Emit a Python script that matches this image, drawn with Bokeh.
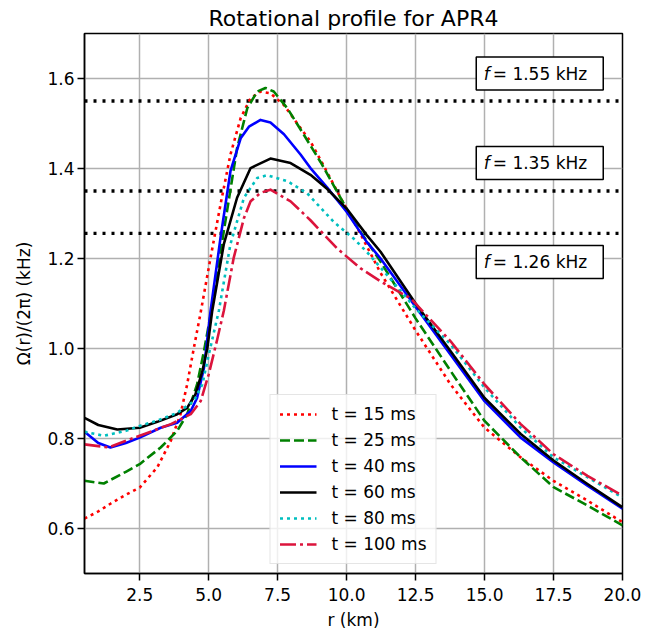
from bokeh.plotting import figure
from bokeh.models import Span, FixedTicker, PrintfTickFormatter, Legend, LegendItem
from bokeh.core.properties import value
from bokeh.embed import file_html
from bokeh.resources import INLINE

FONT = "DejaVu Sans"

# ---- data ----
r_t15 = [0.5, 1.0, 1.44, 2.0, 2.5, 3.14, 3.63, 3.98, 4.22, 4.46, 4.71, 5.07, 5.43, 5.79, 6.16, 6.52,
         6.88, 7.24, 7.73, 8.33, 8.69, 9.18, 9.78, 10.39, 11.23, 12.5, 13.77, 15.0, 16.31, 17.5,
         18.73, 20.0]
f_t15 = [0.622, 0.638, 0.655, 0.675, 0.691, 0.736, 0.795, 0.854, 0.920, 1.000, 1.080, 1.202, 1.320,
         1.431, 1.512, 1.556, 1.571, 1.567, 1.541, 1.490, 1.460, 1.405, 1.335, 1.268, 1.168, 1.040,
         0.920, 0.824, 0.758, 0.706, 0.662, 0.614]

r_t25 = [0.5, 1.2, 2.0, 2.5, 3.26, 3.86, 4.22, 4.58, 4.83, 5.07, 5.55, 6.03, 6.4, 6.76, 7.06, 7.36,
         7.85, 8.45, 9.06, 9.66, 10.26, 11.23, 12.5, 13.77, 15.0, 16.31, 17.5, 18.73, 20.0]
f_t25 = [0.706, 0.700, 0.726, 0.743, 0.780, 0.817, 0.854, 0.920, 0.994, 1.075, 1.261, 1.445, 1.534,
         1.571, 1.579, 1.571, 1.534, 1.475, 1.414, 1.348, 1.282, 1.193, 1.067, 0.950, 0.839, 0.758,
         0.692, 0.651, 0.607]

r_t40 = [0.5, 1.0, 1.44, 2.0, 2.5, 3.26, 3.86, 4.35, 4.58, 4.83, 5.07, 5.43, 5.79, 6.16, 6.46, 6.88,
         7.24, 7.73, 8.33, 8.69, 9.29, 10.0, 10.73, 11.23, 12.5, 13.77, 15.0, 16.31, 17.5, 18.73, 20.0]
f_t40 = [0.815, 0.790, 0.780, 0.790, 0.802, 0.824, 0.835, 0.861, 0.890, 0.957, 1.084, 1.246, 1.394,
         1.467, 1.493, 1.508, 1.502, 1.476, 1.431, 1.401, 1.358, 1.304, 1.237, 1.200, 1.093, 0.986,
         0.883, 0.802, 0.747, 0.695, 0.644]

r_t60 = [0.5, 1.0, 1.69, 2.5, 3.14, 3.86, 4.22, 4.52, 4.77, 4.95, 5.13, 5.55, 6.03, 6.52, 7.24, 7.97,
         8.69, 9.29, 10.0, 10.73, 11.23, 12.5, 13.77, 15.0, 16.31, 17.5, 18.73, 20.0]
f_t60 = [0.846, 0.830, 0.820, 0.824, 0.837, 0.854, 0.868, 0.898, 0.949, 1.000, 1.084, 1.232, 1.335,
         1.401, 1.422, 1.412, 1.386, 1.355, 1.311, 1.252, 1.215, 1.100, 0.994, 0.890, 0.810, 0.751,
         0.699, 0.647]

r_t80 = [0.5, 1.2, 2.0, 2.5, 3.2, 3.86, 4.46, 4.77, 5.0, 5.37, 5.79, 6.28, 6.76, 7.12, 7.85, 8.57,
         9.54, 10.26, 10.73, 11.23, 12.5, 13.77, 15.0, 16.31, 17.5, 18.73, 20.0]
f_t80 = [0.815, 0.806, 0.817, 0.828, 0.841, 0.857, 0.883, 0.920, 0.985, 1.084, 1.232, 1.335, 1.379,
         1.385, 1.372, 1.345, 1.281, 1.244, 1.215, 1.180, 1.089, 1.009, 0.913, 0.824, 0.758, 0.714,
         0.669]

r_t100 = [0.5, 1.38, 2.0, 2.5, 3.63, 4.35, 4.71, 5.0, 5.31, 5.55, 5.91, 6.28, 6.52, 6.88, 7.24, 7.97,
          8.69, 9.66, 10.51, 11.23, 12.33, 13.77, 15.0, 16.31, 17.5, 18.73, 20.0]
f_t100 = [0.787, 0.780, 0.795, 0.806, 0.832, 0.854, 0.883, 0.942, 1.020, 1.084, 1.202, 1.290, 1.327,
          1.346, 1.353, 1.327, 1.285, 1.222, 1.178, 1.149, 1.111, 1.016, 0.920, 0.832, 0.765, 0.717,
          0.673]

series_labels = ["t = 15 ms", "t = 25 ms", "t = 40 ms", "t = 60 ms", "t = 80 ms", "t = 100 ms"]

freq_values = [1.55, 1.35, 1.256]
freq_texts = ["= 1.55 kHz", "= 1.35 kHz", "= 1.26 kHz"]

x_ticks = [2.5, 5.0, 7.5, 10.0, 12.5, 15.0, 17.5, 20.0]
y_ticks = [0.6, 0.8, 1.0, 1.2, 1.4, 1.6]

# ---- styles ----
styles = [
    dict(line_color="#ff0000", line_dash="3 4"),
    dict(line_color="#008000", line_dash="10 4"),
    dict(line_color="#0000ff", line_dash="solid"),
    dict(line_color="#000000", line_dash="solid"),
    dict(line_color="#00bfbf", line_dash="3 4"),
    dict(line_color="#dc143c", line_dash="16 4 3 4"),
]

p = figure(width=668, height=635, x_range=(0.5, 20.0), y_range=(0.5, 1.7),
           output_backend="svg", toolbar_location=None,
           min_border_left=84, min_border_right=46, min_border_top=32, min_border_bottom=62)

p.title.text = "Rotational profile for APR4"
p.title.align = "center"
p.title.text_font = FONT
p.title.text_font_size = "22px"
p.title.text_font_style = "normal"
p.title.text_color = "black"
p.title.standoff = 6

p.outline_line_color = "black"
p.outline_line_width = 1.5
p.outline_line_alpha = 1.0

p.xaxis.ticker = FixedTicker(ticks=x_ticks)
p.xgrid.ticker = FixedTicker(ticks=x_ticks)
p.yaxis.ticker = FixedTicker(ticks=y_ticks)
p.ygrid.ticker = FixedTicker(ticks=y_ticks)
p.xaxis.formatter = PrintfTickFormatter(format="%.1f")
p.yaxis.formatter = PrintfTickFormatter(format="%.1f")

for ax in (p.xaxis, p.yaxis):
    ax.major_tick_out = 7
    ax.major_tick_in = 0
    ax.minor_tick_out = 0
    ax.minor_tick_in = 0
    ax.major_tick_line_width = 1.5
    ax.major_tick_line_color = "black"
    ax.axis_line_width = 1.5
    ax.axis_line_color = "black"
    ax.major_label_text_font = FONT
    ax.major_label_text_font_size = "17px"
    ax.major_label_text_color = "black"
    ax.axis_label_text_font = FONT
    ax.axis_label_text_font_size = "17px"
    ax.axis_label_text_font_style = "normal"
    ax.axis_label_text_color = "black"

p.xaxis.major_label_standoff = 7
p.yaxis.major_label_standoff = 3
p.xaxis.axis_label = "r (km)"
p.yaxis.axis_label = "Ω(r)/(2π) (kHz)"
p.xaxis.axis_label_standoff = 6
p.yaxis.axis_label_standoff = 10

p.grid.grid_line_color = "#b0b0b0"
p.grid.grid_line_width = 1.5

# frequency reference lines
for fv in freq_values:
    p.add_layout(Span(location=fv, dimension="width", line_color="black",
                      line_width=3.3, line_dash="3 6", level="underlay"))

# curves
all_r = [r_t15, r_t25, r_t40, r_t60, r_t80, r_t100]
all_f = [f_t15, f_t25, f_t40, f_t60, f_t80, f_t100]
items = []
for rr, ff, lab, st in zip(all_r, all_f, series_labels, styles):
    ren = p.line(rr, ff, line_width=2.6, line_join="round", **st)
    items.append(LegendItem(label=lab, renderers=[ren]))

legend = Legend(items=items, location="bottom_center")
legend.margin = 9
legend.padding = 9
legend.spacing = 6
legend.label_height = 20
legend.glyph_height = 20
legend.glyph_width = 37
legend.label_standoff = 15
legend.label_text_font = FONT
legend.label_text_font_size = "17px"
legend.label_text_color = "black"
legend.border_line_color = "#cccccc"
legend.border_line_width = 1
legend.background_fill_color = "white"
legend.background_fill_alpha = 0.8
p.add_layout(legend)

# frequency labels in boxes
label_x = 17.0
label_offsets = [0.061, 0.062, -0.064]
label_y = [fv + off for fv, off in zip(freq_values, label_offsets)]
p.rect(x=[label_x] * len(label_y), y=label_y, width=127, height=33,
       width_units="screen", height_units="screen",
       fill_color="white", line_color="black", line_width=1.5)
p.text(x=[label_x] * len(label_y), y=label_y, text=["f"] * len(label_y), x_offset=-56,
       text_font=value(FONT), text_font_style="italic", text_font_size="17px",
       text_baseline="middle", text_align="left", text_color="black")
p.text(x=[label_x] * len(label_y), y=label_y, text=freq_texts, x_offset=-47,
       text_font=value(FONT), text_font_size="17px",
       text_baseline="middle", text_align="left", text_color="black")

open("out.html", "w").write(file_html(p, INLINE))
